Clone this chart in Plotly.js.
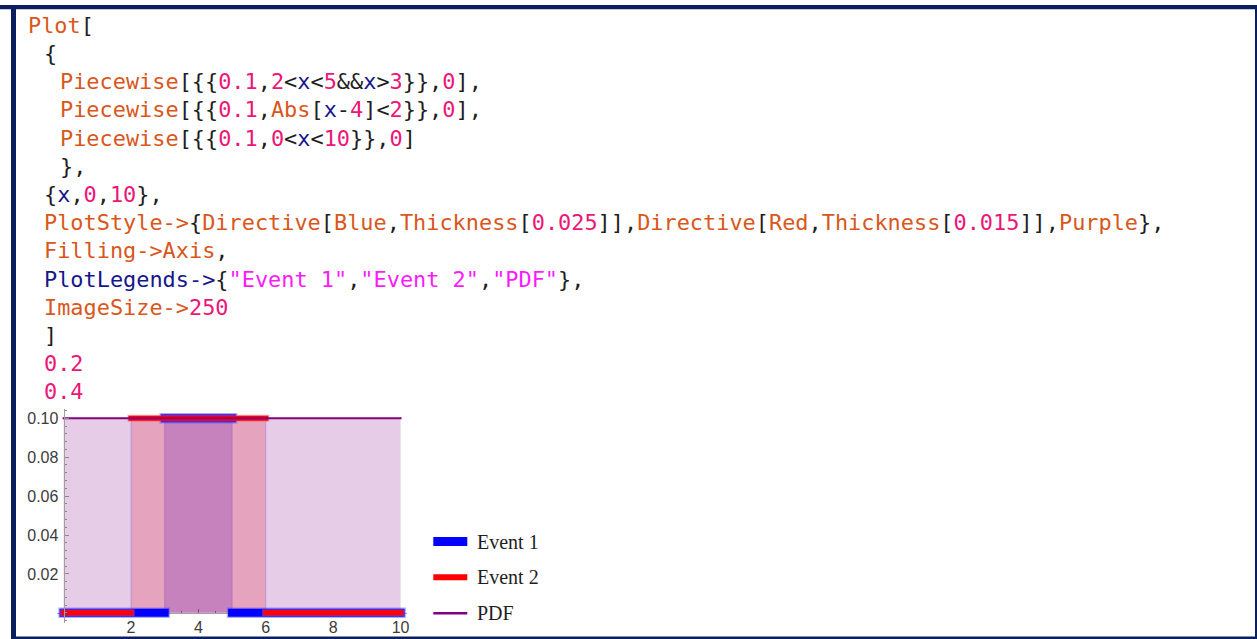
<!DOCTYPE html>
<html>
<head>
<meta charset="utf-8">
<script src="https://cdn.plot.ly/plotly-3.0.1.min.js"></script>
<style>
  html, body { margin: 0; padding: 0; background: #ffffff; }
  #chart { width: 1257px; height: 639px; }
  #chart path.js-line { stroke-linecap: square; }
</style>
</head>
<body>
<div id="chart"></div>
<script>
// ---------------- data ----------------
const seriesNames = ["Event 1", "Event 2", "PDF"];
const xDomain = [0, 10];
const event1Value = 0.1;           // Piecewise[{{0.1, 2<x<5 && x>3}}, 0]
const event1Interval = [3, 5];
const event2Value = 0.1;           // Piecewise[{{0.1, Abs[x-4]<2}}, 0]
const event2Interval = [2, 6];
const pdfValue = 0.1;              // Piecewise[{{0.1, 0<x<10}}, 0]
const pdfInterval = [0, 10];
const xTickValues = [2, 4, 6, 8, 10];
const xTickLabels = ["2", "4", "6", "8", "10"];
const yTickValues = [0.02, 0.04, 0.06, 0.08, 0.10];
const yTickLabels = ["0.02", "0.04", "0.06", "0.08", "0.10"];

// code shown above the plot (text, colour key)
const codeLines = [
  [0, [["Plot", "o"], ["[", "k"]]],
  [1, [["{", "k"]]],
  [2, [["Piecewise", "o"], ["[{{", "k"], ["0.1", "p"], [",", "k"], ["2", "p"], ["<", "k"], ["x", "n"], ["<", "k"], ["5", "p"], ["&&", "k"], ["x", "n"], [">", "k"], ["3", "p"], ["}},", "k"], ["0", "p"], ["],", "k"]]],
  [2, [["Piecewise", "o"], ["[{{", "k"], ["0.1", "p"], [",", "k"], ["Abs", "o"], ["[", "k"], ["x", "n"], ["-", "k"], ["4", "p"], ["]<", "k"], ["2", "p"], ["}},", "k"], ["0", "p"], ["],", "k"]]],
  [2, [["Piecewise", "o"], ["[{{", "k"], ["0.1", "p"], [",", "k"], ["0", "p"], ["<", "k"], ["x", "n"], ["<", "k"], ["10", "p"], ["}},", "k"], ["0", "p"], ["]", "k"]]],
  [2, [["},", "k"]]],
  [1, [["{", "k"], ["x", "n"], [",", "k"], ["0", "p"], [",", "k"], ["10", "p"], ["},", "k"]]],
  [1, [["PlotStyle->", "o"], ["{", "k"], ["Directive", "o"], ["[", "k"], ["Blue", "o"], [",", "k"], ["Thickness", "o"], ["[", "k"], ["0.025", "p"], ["]],", "k"], ["Directive", "o"], ["[", "k"], ["Red", "o"], [",", "k"], ["Thickness", "o"], ["[", "k"], ["0.015", "p"], ["]],", "k"], ["Purple", "o"], ["},", "k"]]],
  [1, [["Filling->Axis", "o"], [",", "k"]]],
  [1, [["PlotLegends->", "n"], ["{", "k"], ["\"Event 1\"", "m"], [",", "k"], ["\"Event 2\"", "m"], [",", "k"], ["\"PDF\"", "m"], ["},", "k"]]],
  [1, [["ImageSize->", "o"], ["250", "p"]]],
  [1, [["]", "k"]]],
  [1, [["0.2", "p"]]],
  [1, [["0.4", "p"]]]
];

// ---------------- styles / geometry ----------------
const W = 1257, H = 639;
const codeColors = { o: "#d9571c", k: "#1e1e1e", p: "#ec1677", n: "#16168a", m: "#ff1aff" };
const indentPx = [28.4, 44.2, 60.2];
const codeTop = 25.3, codeStep = 28.2;

const x0px = 63.6, xUnit = 33.7;     // pixel of x=0, pixels per x unit
const y0px = 612.8, yUnit = 1945;    // pixel of y=0, pixels per y unit
const xRange = [-0.2, 10.2];
const yRange = [-0.005, 0.105];

function esc(s) { return s.replace(/&/g, "&amp;").replace(/</g, "&lt;").replace(/>/g, "&gt;"); }
function px(x) { return x / W; }
function py(y) { return 1 - y / H; }

// build piecewise lines from interval data
function stepSegments(interval, value) {
  const xs = [xDomain[0], interval[0], null, interval[0], interval[1], null, interval[1], xDomain[1]];
  const ys = [0, 0, null, value, value, null, 0, 0];
  return { x: xs, y: ys };
}
function fillPoly(interval, value) {
  return { x: [interval[0], interval[0], interval[1], interval[1]], y: [0, value, value, 0] };
}

const f1 = fillPoly(event1Interval, event1Value);
const f2 = fillPoly(event2Interval, event2Value);
const f3 = fillPoly(pdfInterval, pdfValue);
const l1 = stepSegments(event1Interval, event1Value);
const l2 = stepSegments(event2Interval, event2Value);

const traces = [
  { x: f1.x, y: f1.y, mode: "lines", fill: "toself", fillcolor: "rgba(0,0,255,0.2)",
    line: { color: "rgba(110,110,255,0.35)", width: 1 }, hoverinfo: "skip", showlegend: false },
  { x: f2.x, y: f2.y, mode: "lines", fill: "toself", fillcolor: "rgba(255,0,0,0.2)",
    line: { color: "rgba(110,110,255,0.35)", width: 1 }, hoverinfo: "skip", showlegend: false },
  { x: f3.x, y: f3.y, mode: "lines", fill: "toself", fillcolor: "rgba(128,0,128,0.2)",
    line: { width: 0 }, hoverinfo: "skip", showlegend: false },
  { x: l1.x, y: l1.y, mode: "lines", connectgaps: false, hoverinfo: "skip",
    line: { color: "rgba(70,70,255,0.45)", width: 10.5 }, showlegend: false },
  { x: l1.x, y: l1.y, mode: "lines", name: seriesNames[0], connectgaps: false,
    line: { color: "#0000ff", width: 8 }, showlegend: false },
  { x: l2.x, y: l2.y, mode: "lines", connectgaps: false, hoverinfo: "skip",
    line: { color: "rgba(255,90,110,0.5)", width: 7 }, showlegend: false },
  { x: l2.x, y: l2.y, mode: "lines", name: seriesNames[1], connectgaps: false,
    line: { color: "#ff0000", width: 5 }, showlegend: false },
  { x: pdfInterval, y: [pdfValue, pdfValue], mode: "lines", name: seriesNames[2],
    line: { color: "#800080", width: 2 }, showlegend: false }
];

// code annotations
const annotations = codeLines.map(function (ln, i) {
  const txt = ln[1].map(function (seg) {
    return '<span style="color:' + codeColors[seg[1]] + '">' + esc(seg[0]) + '</span>';
  }).join("");
  return {
    xref: "paper", yref: "paper", x: px(indentPx[ln[0]] - 2), y: py(codeTop + codeStep * i),
    xanchor: "left", yanchor: "middle", showarrow: false, text: txt,
    font: { family: "DejaVu Sans Mono", size: 21.9, color: codeColors.k }
  };
});

// legend (manual, Mathematica style)
const legendColors = ["#0000ff", "#ff0000", "#800080"];
const legendWidths = [9, 6, 2.5];
const legendY = [541.5, 577.3, 613.3];
const shapes = [];
seriesNames.forEach(function (name, i) {
  shapes.push({ type: "line", xref: "paper", yref: "paper",
    x0: px(433.3), x1: px(467.3), y0: py(legendY[i]), y1: py(legendY[i]),
    line: { color: legendColors[i], width: legendWidths[i] } });
  annotations.push({ xref: "paper", yref: "paper", x: px(474.7), y: py(legendY[i]),
    xanchor: "left", yanchor: "middle", showarrow: false, text: name,
    font: { family: "Liberation Serif", size: 20, color: "#1e1e1e" } });
});

// navy frame
const navy = "#0b1f5e";
[[0, 5, W, 9.3], [11, 5, 16, H], [11, 636.5, W, H], [1255, 5, W, H]].forEach(function (r) {
  shapes.push({ type: "rect", xref: "paper", yref: "paper", layer: "above",
    x0: px(r[0]), x1: px(r[2]), y0: py(r[1]), y1: py(r[3]),
    fillcolor: navy, line: { width: 0 } });
});

const layout = {
  width: W, height: H,
  margin: { l: 0, r: 0, t: 0, b: 0, pad: 0 },
  paper_bgcolor: "#ffffff", plot_bgcolor: "rgba(0,0,0,0)",
  showlegend: false,
  xaxis: {
    range: xRange,
    domain: [px(x0px + xRange[0] * xUnit), px(x0px + xRange[1] * xUnit)],
    anchor: "free", position: py(y0px),
    showline: true, linecolor: "#a0a0a0", linewidth: 1,
    showgrid: false, zeroline: false,
    ticks: "inside", ticklen: 4, tickwidth: 1, tickcolor: "#8a8a8a",
    tickmode: "array", tickvals: xTickValues, ticktext: xTickLabels,
    minor: { tickmode: "linear", tick0: 0, dtick: 0.5, ticks: "inside", ticklen: 2.3, tickcolor: "#8a8a8a", showgrid: false },
    tickfont: { family: "Liberation Sans", size: 16, color: "#3c3c3c" },
    ticklabelstandoff: 0,
    layer: "below traces", fixedrange: true
  },
  yaxis: {
    range: yRange,
    domain: [py(y0px - yRange[0] * yUnit), py(y0px - yRange[1] * yUnit)],
    anchor: "free", position: px(x0px),
    showline: true, linecolor: "#a0a0a0", linewidth: 1,
    showgrid: false, zeroline: false,
    ticks: "inside", ticklen: 4.3, tickwidth: 1, tickcolor: "#8a8a8a",
    tickmode: "array", tickvals: yTickValues, ticktext: yTickLabels,
    minor: { tickmode: "linear", tick0: 0, dtick: 0.004, ticks: "inside", ticklen: 2.3, tickcolor: "#8a8a8a", showgrid: false },
    tickfont: { family: "Liberation Sans", size: 16, color: "#3c3c3c" },
    ticklabelstandoff: 2,
    layer: "above traces", fixedrange: true
  },
  shapes: shapes,
  annotations: annotations
};

Plotly.newPlot("chart", traces, layout, { displayModeBar: false, staticPlot: true });
</script>
</body>
</html>
